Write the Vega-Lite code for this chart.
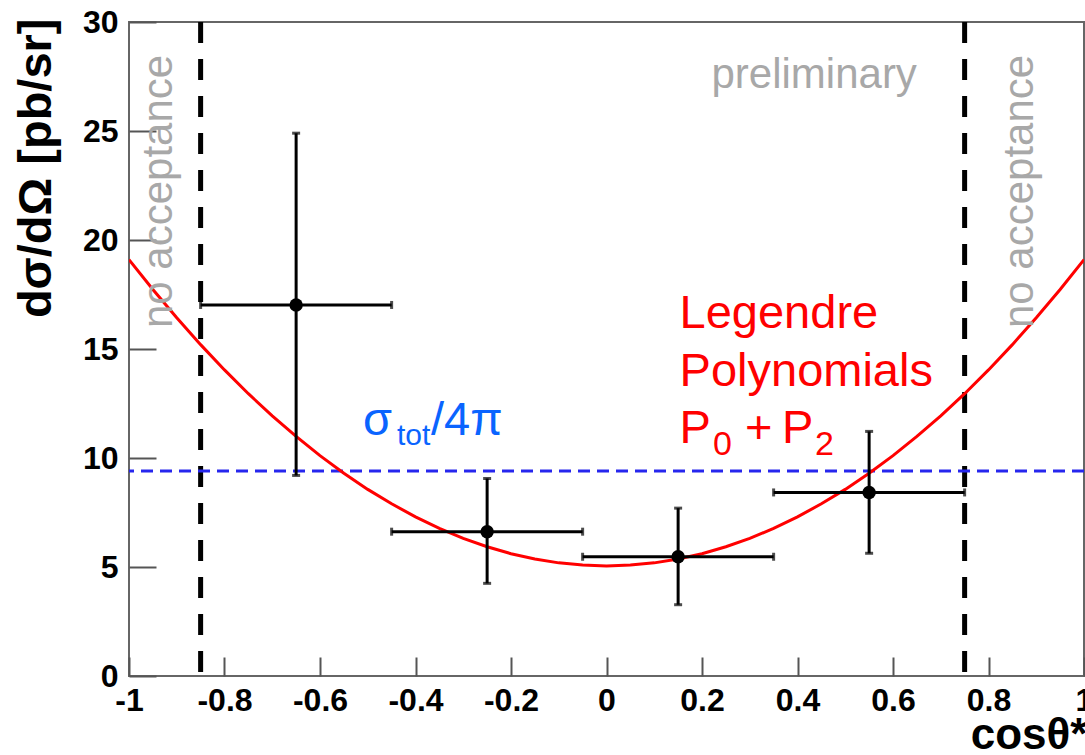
{
  "$schema": "https://vega.github.io/schema/vega-lite/v6.json",
  "width": 955,
  "height": 654,
  "autosize": {"type": "none"},
  "padding": {"left": 129, "top": 22, "right": 1, "bottom": 79},
  "background": "white",
  "config": {
    "view": {"stroke": "#666666", "strokeWidth": 2},
    "font": "Liberation Sans",
    "axis": {"grid": false, "domain": false}
  },
  "resolve": {"axis": {"x": "independent", "y": "independent"}},
  "layer": [
    {
      "data": {"values": [{"cut": -0.85}, {"cut": 0.75}]},
      "mark": {"type": "rule", "color": "black", "strokeWidth": 5, "strokeDash": [21, 16]},
      "encoding": {
        "x": {
          "field": "cut", "type": "quantitative",
          "scale": {"domain": [-1, 1], "nice": false, "zero": false},
          "axis": {
            "orient": "bottom",
            "values": [-1, -0.8, -0.6, -0.4, -0.2, 0, 0.2, 0.4, 0.6, 0.8, 1],
            "labelExpr": "'' + datum.value",
            "ticks": false, "domain": false, "grid": false,
            "labelFont": "Liberation Sans", "labelFontWeight": "bold", "labelFontSize": 32,
            "labelColor": "black", "labelPadding": 9, "labelFlush": false, "labelOverlap": false,
            "title": "cosθ*", "titleFont": "Liberation Sans", "titleFontWeight": "bold",
            "titleFontSize": 44, "titleColor": "black", "titleAlign": "right",
            "titleBaseline": "alphabetic", "titleX": 958, "titleY": 72
          }
        }
      }
    },
    {
      "data": {"values": [{"avg": 9.4}]},
      "mark": {"type": "rule", "color": "#2626ee", "strokeWidth": 3, "strokeDash": [12, 7]},
      "encoding": {
        "y": {
          "field": "avg", "type": "quantitative",
          "scale": {"domain": [0, 30], "nice": false, "zero": true},
          "axis": {
            "orient": "left",
            "values": [0, 5, 10, 15, 20, 25, 30],
            "ticks": false, "domain": false, "grid": false,
            "labelFont": "Liberation Sans", "labelFontWeight": "bold", "labelFontSize": 32,
            "labelColor": "black", "labelPadding": 11, "labelFlush": false, "labelOverlap": false,
            "title": "dσ/dΩ [pb/sr]", "titleFont": "Liberation Sans", "titleFontWeight": "bold",
            "titleFontSize": 47, "titleColor": "black", "titleAngle": 270, "titleAlign": "right",
            "titleBaseline": "alphabetic", "titleX": -79, "titleY": -4
          }
        }
      }
    },
    {
      "data": {"values": [
        {"c": -1, "f": 19.1}, {"c": -0.95, "f": 17.73}, {"c": -0.9, "f": 16.43}, {"c": -0.85, "f": 15.2},
        {"c": -0.8, "f": 14.04}, {"c": -0.75, "f": 12.95}, {"c": -0.7, "f": 11.93}, {"c": -0.65, "f": 10.99},
        {"c": -0.6, "f": 10.11}, {"c": -0.55, "f": 9.3}, {"c": -0.5, "f": 8.56}, {"c": -0.45, "f": 7.9},
        {"c": -0.4, "f": 7.3}, {"c": -0.35, "f": 6.77}, {"c": -0.3, "f": 6.31}, {"c": -0.25, "f": 5.93},
        {"c": -0.2, "f": 5.61}, {"c": -0.15, "f": 5.37}, {"c": -0.1, "f": 5.19}, {"c": -0.05, "f": 5.09},
        {"c": 0, "f": 5.05},
        {"c": 0.05, "f": 5.09}, {"c": 0.1, "f": 5.19}, {"c": 0.15, "f": 5.37}, {"c": 0.2, "f": 5.61},
        {"c": 0.25, "f": 5.93}, {"c": 0.3, "f": 6.31}, {"c": 0.35, "f": 6.77}, {"c": 0.4, "f": 7.3},
        {"c": 0.45, "f": 7.9}, {"c": 0.5, "f": 8.56}, {"c": 0.55, "f": 9.3}, {"c": 0.6, "f": 10.11},
        {"c": 0.65, "f": 10.99}, {"c": 0.7, "f": 11.93}, {"c": 0.75, "f": 12.95}, {"c": 0.8, "f": 14.04},
        {"c": 0.85, "f": 15.2}, {"c": 0.9, "f": 16.43}, {"c": 0.95, "f": 17.73}, {"c": 1, "f": 19.1}
      ]},
      "mark": {"type": "line", "color": "#ff0000", "strokeWidth": 3, "clip": true},
      "encoding": {
        "x": {
          "field": "c", "type": "quantitative",
          "axis": {
            "orient": "bottom",
            "values": [-1, -0.8, -0.6, -0.4, -0.2, 0, 0.2, 0.4, 0.6, 0.8, 1],
            "labels": false, "domain": false, "grid": false, "ticks": true,
            "tickSize": -19, "tickColor": "#555555", "tickWidth": 2, "title": null
          }
        },
        "y": {
          "field": "f", "type": "quantitative",
          "axis": {
            "orient": "left",
            "values": [0, 5, 10, 15, 20, 25, 30],
            "labels": false, "domain": false, "grid": false, "ticks": true,
            "tickSize": -27, "tickColor": "#555555", "tickWidth": 2, "title": null
          }
        }
      }
    },
    {
      "data": {"name": "pts", "values": [
        {"x": -0.65, "y": 17.02, "xlo": -0.85, "xhi": -0.45, "ylo": 9.2, "yhi": 24.9},
        {"x": -0.25, "y": 6.62, "xlo": -0.45, "xhi": -0.05, "ylo": 4.25, "yhi": 9.06},
        {"x": 0.15, "y": 5.47, "xlo": -0.05, "xhi": 0.35, "ylo": 3.27, "yhi": 7.7},
        {"x": 0.55, "y": 8.42, "xlo": 0.35, "xhi": 0.75, "ylo": 5.63, "yhi": 11.22}
      ]},
      "layer": [
        {
          "mark": {"type": "errorbar", "rule": {"strokeWidth": 3, "color": "black"}, "ticks": {"size": 8, "thickness": 3, "color": "black"}},
          "encoding": {
            "x": {"field": "xlo", "type": "quantitative", "axis": null},
            "x2": {"field": "xhi"},
            "y": {"field": "y", "type": "quantitative", "axis": null}
          }
        },
        {
          "mark": {"type": "errorbar", "rule": {"strokeWidth": 3, "color": "black"}, "ticks": {"size": 8, "thickness": 3, "color": "black"}},
          "encoding": {
            "y": {"field": "ylo", "type": "quantitative", "axis": null},
            "y2": {"field": "yhi"},
            "x": {"field": "x", "type": "quantitative", "axis": null}
          }
        },
        {
          "mark": {"type": "point", "shape": "circle", "filled": true, "color": "black", "opacity": 1, "size": 180},
          "encoding": {
            "x": {
              "field": "x", "type": "quantitative",
              "axis": {
                "orient": "bottom",
                "values": [-0.95, -0.9, -0.85, -0.75, -0.7, -0.65, -0.55, -0.5, -0.45, -0.35, -0.3, -0.25, -0.15, -0.1, -0.05, 0.05, 0.1, 0.15, 0.25, 0.3, 0.35, 0.45, 0.5, 0.55, 0.65, 0.7, 0.75, 0.85, 0.9, 0.95],
                "labels": false, "domain": false, "grid": false, "ticks": true,
                "tickSize": -9.5, "tickColor": "#555555", "tickWidth": 2, "title": null
              }
            },
            "y": {
              "field": "y", "type": "quantitative",
              "axis": {
                "orient": "left",
                "values": [1, 2, 3, 4, 6, 7, 8, 9, 11, 12, 13, 14, 16, 17, 18, 19, 21, 22, 23, 24, 26, 27, 28, 29],
                "labels": false, "domain": false, "grid": false, "ticks": true,
                "tickSize": -13, "tickColor": "#555555", "tickWidth": 2, "title": null
              }
            }
          }
        }
      ]
    },
    {
      "data": {"values": [{"t": "preliminary", "x": 0.65, "y": 26.97}]},
      "mark": {"type": "text", "font": "Liberation Sans", "fontSize": 42, "color": "#a8a8a8", "align": "right", "baseline": "alphabetic"},
      "encoding": {
        "x": {"field": "x", "type": "quantitative", "axis": null},
        "y": {"field": "y", "type": "quantitative", "axis": null},
        "text": {"field": "t"}
      }
    },
    {
      "data": {"values": [{"t": "no acceptance", "x": -0.91, "y": 15.96}, {"t": "no acceptance", "x": 0.893, "y": 15.96}]},
      "mark": {"type": "text", "font": "Liberation Sans", "fontSize": 42, "color": "#a8a8a8", "align": "left", "baseline": "alphabetic", "angle": 270},
      "encoding": {
        "x": {"field": "x", "type": "quantitative", "axis": null},
        "y": {"field": "y", "type": "quantitative", "axis": null},
        "text": {"field": "t"}
      }
    },
    {
      "data": {"values": [{"t": "σ", "x": -0.51, "y": 11.06}, {"t": "/4π", "x": -0.3675, "y": 11.06}]},
      "mark": {"type": "text", "font": "Liberation Sans", "fontSize": 47, "color": "#0a64ff", "align": "left", "baseline": "alphabetic"},
      "encoding": {
        "x": {"field": "x", "type": "quantitative", "axis": null},
        "y": {"field": "y", "type": "quantitative", "axis": null},
        "text": {"field": "t"}
      }
    },
    {
      "data": {"values": [{"t": "tot", "x": -0.4387, "y": 10.6}]},
      "mark": {"type": "text", "font": "Liberation Sans", "fontSize": 30, "color": "#0a64ff", "align": "left", "baseline": "alphabetic"},
      "encoding": {
        "x": {"field": "x", "type": "quantitative", "axis": null},
        "y": {"field": "y", "type": "quantitative", "axis": null},
        "text": {"field": "t"}
      }
    },
    {
      "data": {"values": [
        {"t": "Legendre", "x": 0.153, "y": 15.97},
        {"t": "Polynomials", "x": 0.153, "y": 13.31},
        {"t": "P", "x": 0.153, "y": 10.68},
        {"t": "P", "x": 0.3675, "y": 10.68}
      ]},
      "mark": {"type": "text", "font": "Liberation Sans", "fontSize": 47, "color": "#ff0000", "align": "left", "baseline": "alphabetic"},
      "encoding": {
        "x": {"field": "x", "type": "quantitative", "axis": null},
        "y": {"field": "y", "type": "quantitative", "axis": null},
        "text": {"field": "t"}
      }
    },
    {
      "data": {"values": [{"t": "+", "x": 0.319, "y": 10.68}]},
      "mark": {"type": "text", "font": "Liberation Sans", "fontSize": 47, "color": "#ff0000", "align": "center", "baseline": "alphabetic"},
      "encoding": {
        "x": {"field": "x", "type": "quantitative", "axis": null},
        "y": {"field": "y", "type": "quantitative", "axis": null},
        "text": {"field": "t"}
      }
    },
    {
      "data": {"values": [{"t": "0", "x": 0.223, "y": 10.15}, {"t": "2", "x": 0.4367, "y": 10.15}]},
      "mark": {"type": "text", "font": "Liberation Sans", "fontSize": 34, "color": "#ff0000", "align": "left", "baseline": "alphabetic"},
      "encoding": {
        "x": {"field": "x", "type": "quantitative", "axis": null},
        "y": {"field": "y", "type": "quantitative", "axis": null},
        "text": {"field": "t"}
      }
    }
  ]
}
